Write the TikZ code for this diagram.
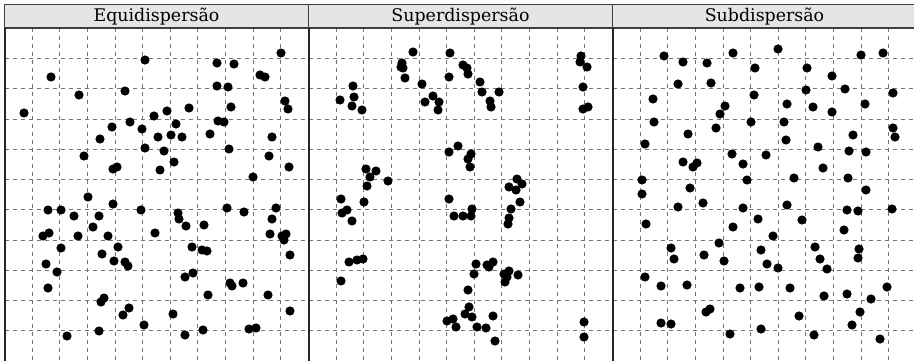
\documentclass[tikz,border=0pt]{standalone}
\usepackage{fontspec}
\setmainfont{DejaVu Serif}
\begin{document}
\begin{tikzpicture}[x=1pt,y=-1pt,
  gridline/.style={draw=black!55,line width=1pt,dash pattern=on 4pt off 4pt},
  panelborder/.style={draw=black!85,line width=2pt},
  headbox/.style={fill=black!10,draw=black!75,line width=1.4pt},
  headtext/.style={font=\fontsize{17.4}{20}\selectfont,text=black,anchor=center},
  dot/.style={fill=black}]
\useasboundingbox (0,0) rectangle (914,361);
\clip (0,0) rectangle (914,361);
\fill[white] (0,0) rectangle (914,361);
% grid
\foreach \px in {4.5,308.5,612.5}{
  \foreach \k in {1,...,10}{
    \draw[gridline] ({\px+\k*27.64},28) -- ({\px+\k*27.64},361);
    \draw[gridline] (\px,{28.3+\k*30.25}) -- ({\px+304},{28.3+\k*30.25});
  }
}
% headers
\foreach \px/\t [count=\i] in {4.5/Equidispersão,308.5/Superdispersão,612.5/Subdispersão}{
  \draw[headbox] (\px,4.5) rectangle ({\px+304},28);
  \node[headtext] (h\i) at ({\px+152},16.5) {\t};
}
% panel borders
\foreach \px in {4.5,308.5,612.5}{
  \draw[panelborder] (\px,28) -- (\px,362);
}
% dots panel 1
\foreach \a/\b in {24/113,51/77,79/95,125/91,145/60,217/63,234/64,281/53,260/75,265/77,217/86,228/87,231/107,285/101,288/109,167/111,189/108,154/116,130/122,176/124,218/121,224/122,112/127,142/129,
100/139,158/137,171/135,182/137,210/134,272/137,145/148,164/151,229/149,84/156,269/156,174/162,113/169,117/167,160/170,289/167,253/177,88/197,48/210,61/210,74/216,113/204,141/210,99/216,178/213,179/219,186/226,204/225,227/208,244/212,276/208,272/219,93/227,43/236,49/233,78/236,108/236,155/233,270/234,282/236,286/234,284/240,61/248,118/247,192/247,202/250,207/251,
102/254,46/264,57/272,114/261,125/262,128/266,290/255,185/277,193/273,48/288,230/283,232/286,243/283,208/295,268/295,104/298,101/302,129/308,123/315,173/314,290/311,144/325,67/336,99/331,185/335,203/330,249/329,256/328}
  {\fill[dot] (\a,\b) circle (4.6);}
% dots panel 2
\foreach \a/\b in {413/52,450/53,402/63,401/67,403/68,405/78,463/65,467/68,468/74,449/77,581/56,580/62,587/67,583/87,422/84,433/96,425/102,439/102,438/110,480/82,482/92,499/92,490/101,491/107,353/86,340/100,354/97,352/106,362/110,583/109,588/107,
458/146,449/152,471/154,468/159,470/167,366/169,376/171,370/177,388/181,367/186,341/199,364/202,347/210,342/213,352/221,449/199,472/209,454/216,463/216,471/216,517/179,522/184,509/187,516/190,520/202,511/209,509/218,508/224,
349/262,357/260,363/259,341/281,476/264,487/265,489/267,493/262,474/274,504/274,509/271,507/277,505/282,518/275,468/290,469/307,465/314,472/317,493/316,447/321,453/319,456/327,477/327,486/328,495/341,584/322,584/337}
  {\fill[dot] (\a,\b) circle (4.6);}
% dots panel 3
\foreach \a/\b in {664/56,683/62,707/63,733/53,778/49,755/68,807/68,861/55,883/53,832/76,678/84,711/83,653/99,754/95,806/90,845/89,893/93,725/106,720/114,787/104,813/107,832/112,865/104,654/122,716/128,751/122,784/122,893/128,
895/137,688/134,645/144,786/140,853/135,818/147,732/154,766/155,849/151,866/152,683/162,693/167,697/163,743/164,823/168,642/180,747/180,794/178,848/178,642/194,690/188,866/190,678/207,703/203,743/208,787/205,847/210,858/211,892/209,646/224,733/227,758/219,802/220,844/230,773/236,671/248,719/243,761/250,815/247,859/249,
674/259,704/255,724/261,767/264,778/268,820/259,827/269,858/258,645/277,661/286,687/285,740/288,759/287,790/288,824/296,847/294,871/299,887/287,706/312,710/309,799/316,860/312,661/323,671/324,852/325,730/334,761/329,814/335,880/339}
  {\fill[dot] (\a,\b) circle (4.6);}
\end{tikzpicture}
\end{document}
